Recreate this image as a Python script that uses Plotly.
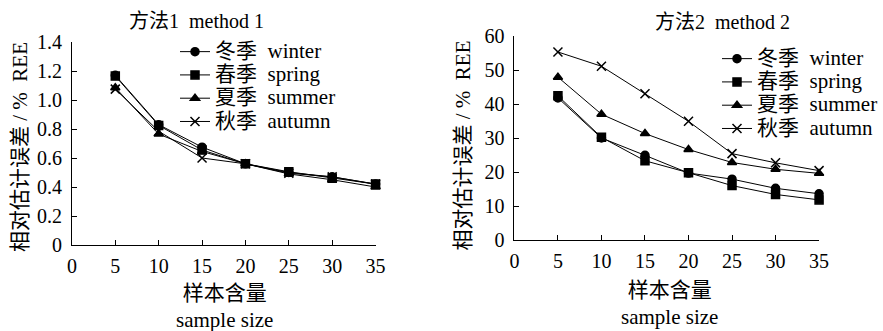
import plotly.graph_objects as go

sample_size = [5, 10, 15, 20, 25, 30, 35]
season_names = ["冬季  winter", "春季  spring", "夏季  summer", "秋季  autumn"]
symbols = ["circle", "square", "triangle-up", "x-thin-open"]

# method 1 REE (%)
m1_winter = [1.17, 0.83, 0.675, 0.56, 0.50, 0.47, 0.42]
m1_spring = [1.165, 0.825, 0.655, 0.56, 0.505, 0.46, 0.42]
m1_summer = [1.085, 0.765, 0.645, 0.56, 0.49, 0.45, 0.40]
m1_autumn = [1.075, 0.785, 0.60, 0.56, 0.495, 0.47, 0.42]

# method 2 REE (%)
m2_winter = [41.8, 30.0, 24.9, 19.7, 17.9, 15.2, 13.6]
m2_spring = [42.4, 30.2, 23.3, 19.8, 16.0, 13.4, 11.8]
m2_summer = [47.9, 37.0, 31.3, 26.6, 22.8, 20.8, 19.6]
m2_autumn = [55.3, 51.1, 43.0, 34.9, 25.4, 22.7, 20.4]

y1_ticks = [0, 0.2, 0.4, 0.6, 0.8, 1.0, 1.2, 1.4]
y1_text = ["0", "0.2", "0.4", "0.6", "0.8", "1.0", "1.2", "1.4"]
y2_ticks = [0, 10, 20, 30, 40, 50, 60]
x_ticks = [0, 5, 10, 15, 20, 25, 30, 35]

titles = ["方法1  method 1", "方法2  method 2"]
ytitle = "相对估计误差 / %  REE"
xtitle = "样本含量<br>sample size"

FONT = "'Liberation Serif', 'Times New Roman', 'Noto Sans CJK SC', serif"
W, H = 883, 331


def px_x(v):
    return v / W


def px_y(v):
    return 1 - v / H


def legend_label(name):
    return '<span style="font-size:21px">' + name + '</span>'


fig = go.Figure()

for vals, name, sym in zip([m1_winter, m1_spring, m1_summer, m1_autumn], season_names, symbols):
    fig.add_trace(go.Scatter(
        x=sample_size, y=vals, name=legend_label(name), mode="lines+markers",
        line=dict(color="black", width=1),
        marker=dict(symbol=sym, size=8 if sym != "x-thin-open" else 9, color="black",
                    line=dict(color="black", width=1.5)),
        xaxis="x", yaxis="y", legend="legend", cliponaxis=False,
    ))
for vals, name, sym in zip([m2_winter, m2_spring, m2_summer, m2_autumn], season_names, symbols):
    fig.add_trace(go.Scatter(
        x=sample_size, y=vals, name=legend_label(name), mode="lines+markers",
        line=dict(color="black", width=1),
        marker=dict(symbol=sym, size=8 if sym != "x-thin-open" else 9, color="black",
                    line=dict(color="black", width=1.5)),
        xaxis="x2", yaxis="y2", legend="legend2", cliponaxis=False,
    ))

axis_common = dict(
    showline=True, linecolor="black", linewidth=1, ticks="inside", ticklen=5,
    tickcolor="black", tickwidth=1, showgrid=False, zeroline=False, automargin=False,
    tickfont=dict(family=FONT, size=20, color="black"),
)

fig.update_layout(
    width=W, height=H,
    margin=dict(l=0, r=0, t=0, b=0),
    paper_bgcolor="white", plot_bgcolor="white",
    font=dict(family=FONT, size=20, color="black"),
    xaxis=dict(domain=[px_x(72), px_x(376)], range=[0, 35], tickvals=x_ticks,
               anchor="y", ticklabelstandoff=3, **axis_common),
    yaxis=dict(domain=[px_y(245), px_y(42)], range=[0, 1.4], tickvals=y1_ticks,
               ticktext=y1_text, anchor="x", ticklabelstandoff=5, **axis_common),
    xaxis2=dict(domain=[px_x(515), px_x(820)], range=[0, 35], tickvals=x_ticks,
                anchor="y2", ticklabelstandoff=3, **axis_common),
    yaxis2=dict(domain=[px_y(240), px_y(36)], range=[0, 60], tickvals=y2_ticks,
                anchor="x2", ticklabelstandoff=5, **axis_common),
    legend=dict(x=px_x(175), y=px_y(35), xanchor="left", yanchor="top",
                bgcolor="rgba(0,0,0,0)", font=dict(family=FONT, size=15.6),
                itemwidth=30, tracegroupgap=0),
    legend2=dict(x=px_x(718), y=px_y(42), xanchor="left", yanchor="top",
                 bgcolor="rgba(0,0,0,0)", font=dict(family=FONT, size=15.6),
                 itemwidth=30, tracegroupgap=0),
    showlegend=True,
    annotations=[
        dict(text=titles[0], x=px_x(197), y=px_y(21), xref="paper", yref="paper",
             showarrow=False, font=dict(family=FONT, size=20), xanchor="center", yanchor="middle"),
        dict(text=titles[1], x=px_x(723), y=px_y(22), xref="paper", yref="paper",
             showarrow=False, font=dict(family=FONT, size=20), xanchor="center", yanchor="middle"),
        dict(text=ytitle, x=px_x(20), y=px_y(147), xref="paper", yref="paper", textangle=-90,
             showarrow=False, font=dict(family=FONT, size=21), xanchor="center", yanchor="middle"),
        dict(text=ytitle, x=px_x(464), y=px_y(145), xref="paper", yref="paper", textangle=-90,
             showarrow=False, font=dict(family=FONT, size=21), xanchor="center", yanchor="middle"),
        dict(text=xtitle, x=px_x(225), y=px_y(306), xref="paper", yref="paper",
             showarrow=False, font=dict(family=FONT, size=21), xanchor="center", yanchor="middle"),
        dict(text=xtitle, x=px_x(670), y=px_y(303), xref="paper", yref="paper",
             showarrow=False, font=dict(family=FONT, size=21), xanchor="center", yanchor="middle"),
    ],
)

fig.write_html("out.html")
